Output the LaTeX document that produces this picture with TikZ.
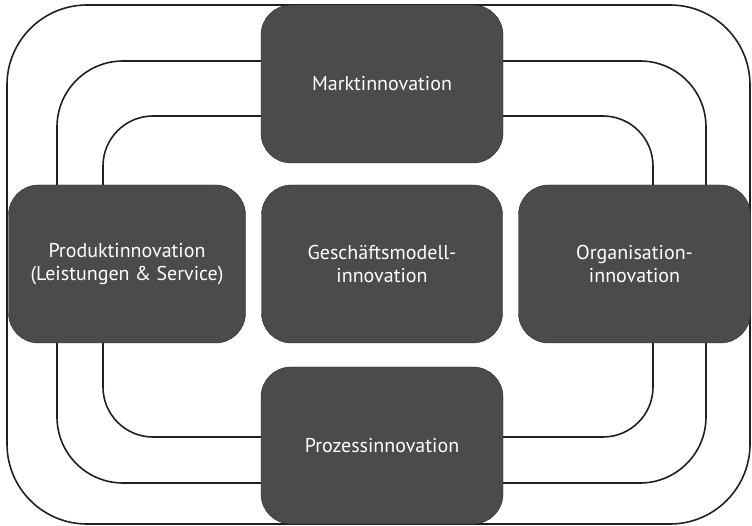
\documentclass[tikz,border=0pt]{standalone}
\usepackage{fontspec}
\setmainfont{PT Sans}
\usepackage{tikz}
\usetikzlibrary{positioning,calc}
\usepackage{xcolor}
\definecolor{boxgray}{HTML}{4A4B4D}
\definecolor{linegray}{HTML}{231F20}

\begin{document}
\begin{tikzpicture}[
    x=1pt, y=-1pt,
    node distance=16pt,
    ring/.style={rectangle, draw=linegray, line width=1.6pt, outer sep=0pt},
    field/.style={rectangle, draw=black!85, fill=boxgray, thin, rounded corners=30pt, outer sep=0pt,
        minimum width=241pt, minimum height=158pt, text=white, align=center,
        font=\fontsize{20pt}{23.5pt}\selectfont}
]
\useasboundingbox (0,0) rectangle (752,526);

% Rings
\draw[ring, rounded corners=80pt] (7,5) rectangle (750,524);
\draw[ring, rounded corners=66pt] (57,61) rectangle (706,483);
\draw[ring, rounded corners=50pt] (103,116) rectangle (653,437);

% Fields
\node (geschaeft) [field] at (382,264) {Geschäftsmodell-\\innovation};
\node (markt) [field, above=22pt of geschaeft, minimum width=242pt] {Marktinnovation};
\node (prozess) [field, below=24pt of geschaeft, minimum width=242pt, minimum height=157pt] {Prozessinnovation};
\node (produkt) [field, left=of geschaeft, minimum width=237pt] {Produktinnovation\\(Leistungen \& Service)};
\node (orga) [field, right=of geschaeft, minimum width=232pt] {Organisation-\\innovation};

\end{tikzpicture}
\end{document}
